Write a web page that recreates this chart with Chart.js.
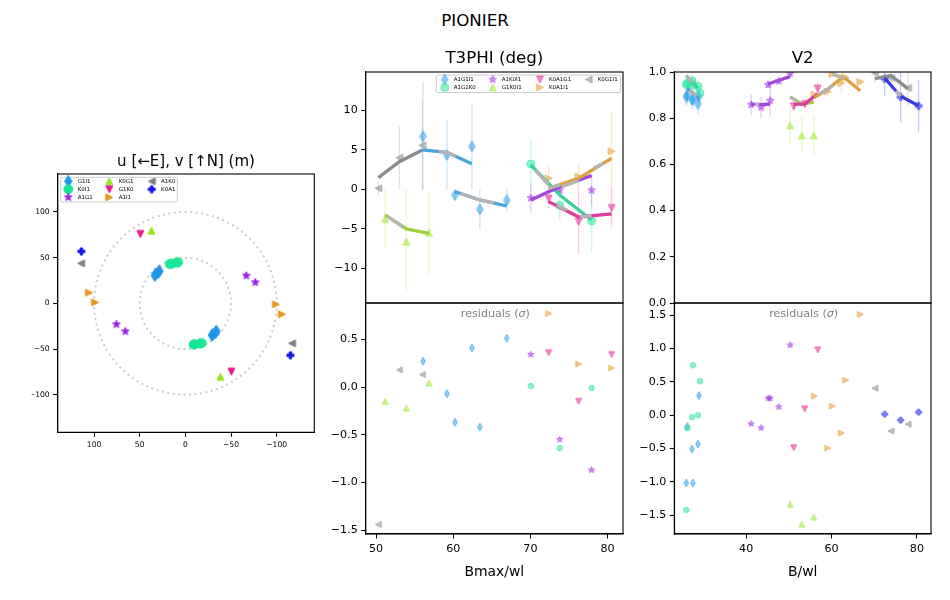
<!DOCTYPE html>
<html>
<head>
<meta charset="utf-8">
<title>PIONIER</title>
<script src="https://cdn.jsdelivr.net/npm/chart.js@4"></script>
<style>
  body { margin: 0; background: #fff; }
  canvas { position: absolute; left: 0; top: 0; }
  #main { position: absolute; left: 0; top: 11px; width: 950px; text-align: center;
          font: 16.67px "DejaVu Sans"; line-height: 20px; color: #000; }
</style>
</head>
<body>
<div id="main">PIONIER</div>
<canvas id="uv" width="950" height="600"></canvas>
<canvas id="t3" width="950" height="600"></canvas>
<canvas id="t3res" width="950" height="600"></canvas>
<canvas id="v2" width="950" height="600"></canvas>
<canvas id="v2res" width="950" height="600"></canvas>
<script>
// u,v coverage (m)
const uG1I1 = [33.5, 32.5, 29.5, 28.5, -29, -30, -33, -34];
const vG1I1 = [30.5, 32, 34, 35.5, -35, -34, -32, -30.5];
const uK0I1 = [17, 15, 9.5, 8, -9, -10, -16, -18];
const vK0I1 = [43, 43.5, 44.5, 45, -45, -45, -44, -43.5];
const uA1G1 = [75.5, 65.7, -66.8, -76.6];
const vA1G1 = [-23, -30.7, 30.3, 23];
const uK0G1 = [37.2, -38.3];
const vK0G1 = [79.6, -80.3];
const uG1K0 = [49.3, -50.4];
const vG1K0 = [75.9, -74.8];
const uA1I1 = [105.5, 98.9, -99.3, -105.8];
const vA1I1 = [11.7, 1.1, -1.1, -12];
const uA1K0 = [114.2, -116.8];
const vA1K0 = [43.8, -43.8];
const uK0A1 = [113.9, -115];
const vK0A1 = [56.9, -56.9];
const uvRings = [50, 100];

// T3PHI: x, value, error, residual
const xA1G1I1 = [56.08, 59.18, 62.42, 60.22, 63.45, 66.94];
const yA1G1I1 = [6.73, 4.37, 5.46, -0.7, -2.51, -1.37];
const eA1G1I1 = [6.8, 4.4, 5.5, 0.7, 2.5, 1.4];
const rA1G1I1 = [0.27, -0.07, 0.41, -0.37, -0.42, 0.51];
const xA1G1K0 = [70.05, 73.8, 77.93];
const yA1G1K0 = [3.23, -2, -3.99];
const eA1G1K0 = [3.2, 2, 4];
const rA1G1K0 = [0.01, -0.64, -0.01];
const yA1K0I1 = [-1.07, -0.1, -0.1];
const eA1K0I1 = [1.9, 0.7, 2];
const rA1K0I1 = [0.34, -0.55, -0.87];
const xG1K0I1 = [51.17, 53.93, 56.86];
const yG1K0I1 = [-3.73, -6.6, -5.46];
const eG1K0I1 = [3.8, 6.6, 5.4];
const rG1K0I1 = [-0.15, -0.22, 0.04];
const xK0A1G1 = [72.37, 76.25, 80.52];
const yK0A1G1 = [-1.16, -4.1, -2.34];
const eK0A1G1 = [1.27, 4.1, 2.4];
const rK0A1G1 = [0.36, -0.15, 0.34];
const yK0A1I1 = [1.4, 1.62, 4.83];
const eK0A1I1 = [1.6, 1.65, 4.9];
const rK0A1I1 = [0.77, 0.24, 0.2];
const xK0G1I1 = [50.3, 53.02, 56];
const yK0G1I1 = [0.15, 4.03, 5.59];
const eK0G1I1 = [0.85, 4, 5.6];
const rK0G1I1 = [-1.44, 0.18, 0.13];

// T3PHI model lines
const mxA1G1I1 = [56, 59.18, 62.42, null, 60.22, 63.45, 66.94];
const myA1G1I1 = [5, 4.7, 3.27, null, -0.27, -1.33, -2.09];
const myA1G1K0 = [3.1, -0.7, -3.86];
const myA1K0I1 = [-1.33, 0.36, 1.75];
const myG1K0I1 = [-3.23, -5, -5.55];
const myK0A1G1 = [-1.54, -3.48, -3.1];
const myK0A1I1 = [0.15, 1.41, 3.95];
const myK0G1I1 = [1.5, 3.52, 5];
// grey stretches laid over the coloured model lines
const t3GreyX = [58.15, 59.18, 60.3, null, 60.95, 63.45, 65.3, null, 51.5, 53.6, null, 70.6, 72.35, null, 73.4, 74.7, null, 76.4, 77.95, null, 72.35, 73.86, null, 78.17, 79.46, null, 74.07, 76.23];
const t3GreyY = [4.8, 4.7, 4.2, null, -0.51, -1.33, -1.73, null, -3.44, -4.79, null, 2.47, 0.57, null, -1.96, -2.59, null, -3.43, -3.35, null, 0.15, 0.57, null, 2.68, 3.32, null, 0.36, 1.12];

// V2: x, value, error, residual
const xG1I1 = [25.96, 26.2, 27.3, 27.52, 28.7, 28.93];
const yG1I1 = [0.892, 0.9, 0.88, 0.88, 0.861, 0.895];
const eG1I1 = [0.04, 0.04, 0.04, 0.04, 0.045, 0.04];
const rG1I1 = [-1.016, -0.169, -0.508, -1.016, -0.433, 0.294];
const xK0I1 = [25.96, 26.2, 27.3, 27.52, 28.7, 29.16];
const yK0I1 = [0.945, 0.952, 0.962, 0.945, 0.938, 0.909];
const eK0I1 = [0.03, 0.03, 0.04, 0.03, 0.03, 0.03];
const rK0I1 = [-1.42, -0.194, -0.03, 0.747, 0, 0.508];
const xA1G1 = [41.17, 43.5, 45.6, 45.15, 47.64, 50.29];
const yA1G1 = [0.859, 0.847, 0.876, 0.945, 0.96, 0.993];
const eA1G1 = [0.045, 0.047, 0.07, 0.012, 0.012, 0.012];
const rA1G1 = [-0.13, -0.19, 0.254, 0.254, 0.125, 1.05];
const xK0G1 = [50.29, 53.02, 55.83];
const yK0G1 = [0.769, 0.726, 0.726];
const eK0G1 = [0.087, 0.078, 0.087];
const rK0G1 = [-1.335, -1.634, -1.53];
const xG1K0 = [51.15, 53.72, 56.76];
const yG1K0 = [0.851, 0.861, 0.928];
const eG1K0 = [0.02, 0.02, 0.025];
const rG1K0 = [-0.488, 0.095, 0.977];
const xA1I1 = [55.98, 59.1, 62.3, 60.2, 63.31, 66.74];
const yA1I1 = [0.902, 0.916, 0.952, 0.991, 0.977, 0.957];
const eA1I1 = [0.015, 0.02, 0.045, 0.012, 0.012, 0.012];
const rA1I1 = [0.284, -0.493, -0.269, 0.135, 0.523, 1.51];
const xA1K0 = [70.18, 73.92, 77.9];
const yA1K0 = [0.996, 0.974, 0.931];
const eA1K0 = [0.04, 0.05, 0.08];
const rA1K0 = [0.404, -0.239, -0.135];
const xK0A1 = [72.44, 76.18, 80.39];
const yK0A1 = [0.971, 0.892, 0.853];
const eK0A1 = [0.075, 0.11, 0.115];
const rK0A1 = [0.015, -0.075, 0.045];

// V2 model lines
const mxG1I1 = [26.2, 27.52, 28.93];
const myG1I1 = [0.93, 0.91, 0.885];
const mxK0I1 = [25.96, 27.3, 28.7];
const myK0I1 = [0.985, 0.955, 0.93];
const mxA1G1 = [41.17, 43.5, 45.6, null, 45.15, 47.64, 50.29];
const myA1G1 = [0.861, 0.859, 0.861, null, 0.948, 0.964, 0.98];
const myK0G1 = [0.892, 0.861, 0.87];
const myG1K0 = [0.861, 0.861, 0.906];
const mxA1I1 = [55.98, 59.1, 62.3, null, 60.2, 63.31, 66.74];
const myA1I1 = [0.89, 0.925, 0.974, null, 0.991, 0.971, 0.919];
const myA1K0 = [0.971, 0.985, 0.928];
const myK0A1 = [0.974, 0.895, 0.854];
const v2GreyX = [25.96, 27.3, null, 26.74, 27.52, 28.3, null, 50.29, 52, null, 42, 43, null, 57.15, 59.1, 60.3, null, 60.2, 63, null, 75.09, 76.18];
const v2GreyY = [0.985, 0.955, null, 0.922, 0.91, 0.896, null, 0.892, 0.873, null, 0.86, 0.86, null, 0.905, 0.925, 0.943, null, 0.991, 0.973, null, 0.918, 0.895];

// ticks
const uvTicks = [100, 50, 0, -50, -100];
const t3Ticks = [10, 5, 0, -5, -10];
const t3ResTicks = [0.5, 0, -0.5, -1, -1.5];
const t3XTicks = [50, 60, 70, 80];
const v2Ticks = [0, 0.2, 0.4, 0.6, 0.8, 1];
const v2ResTicks = [1.5, 1, 0.5, 0, -0.5, -1, -1.5];
const v2XTicks = [40, 60, 80];

const BLUE = '#1f97e6', TEAL = '#19e696', PURPLE = '#9b1fe6', LIME = '#97e61f',
      PINK = '#e6198c', ORANGE = '#e6961f', GREY = '#808080', NAVY = '#1414e6';
// model lines look a bit duller than the markers
const lineTone = {};
lineTone[BLUE] = '#4aa5dc'; lineTone[TEAL] = '#3ecf9e'; lineTone[PURPLE] = '#a046d8'; lineTone[LIME] = '#a0d040';
lineTone[PINK] = '#dc3c9c'; lineTone[ORANGE] = '#dca040'; lineTone[GREY] = '#8c8c8c'; lineTone[NAVY] = '#3c3cdc';
const FONT = 'DejaVu Sans';

Chart.defaults.font.family = FONT;
Chart.defaults.animation = false;
Chart.defaults.color = '#000';

// matplotlib style markers, drawn once on a small canvas
function marker(shape, color, size, alpha) {
  const c = document.createElement('canvas');
  c.width = c.height = Math.ceil(size) + 6;
  const g = c.getContext('2d');
  const r = size / 2;
  g.translate(c.width / 2, c.height / 2);
  g.beginPath();
  if (shape == 'o') {
    g.arc(0, 0, r, 0, Math.PI * 2);
  } else if (shape == 'd') {
    g.moveTo(0, -r); g.lineTo(r * 0.6, 0); g.lineTo(0, r); g.lineTo(-r * 0.6, 0);
  } else if (shape == '*') {
    for (let i = 0; i < 10; i++) {
      const a = -Math.PI / 2 + i * Math.PI / 5;
      const q = i % 2 ? r * 0.42 : r;
      g.lineTo(q * Math.cos(a), q * Math.sin(a));
    }
  } else if (shape == 'P') {
    const a = r * 0.36;
    const pts = [[-a, -r], [a, -r], [a, -a], [r, -a], [r, a], [a, a], [a, r], [-a, r], [-a, a], [-r, a], [-r, -a], [-a, -a]];
    pts.forEach(p => g.lineTo(p[0], p[1]));
  } else {
    const rot = { '^': 0, '>': 90, 'v': 180, '<': 270 }[shape] * Math.PI / 180;
    g.rotate(rot);
    g.moveTo(0, -r); g.lineTo(r, r); g.lineTo(-r, r);
  }
  g.closePath();
  g.globalAlpha = alpha;
  g.fillStyle = color;
  g.fill();
  g.strokeStyle = color;
  g.lineWidth = 1;
  g.stroke();
  return c;
}

function markerSet(shapes, colors, sizes, alpha) {
  return shapes.map((s, i) => marker(s, colors[i], sizes[s], alpha));
}

function pairs(xs, ys) {
  return xs.map((x, i) => ({ x: x, y: ys[i] }));
}

// error bars: two points per bar, with a gap between bars
function bars(xs, ys, es) {
  const out = [];
  xs.forEach((x, i) => {
    out.push({ x: x, y: ys[i] - es[i] }, { x: x, y: ys[i] + es[i] }, { x: null, y: null });
  });
  return out;
}

function points(xs, ys, style) {
  return { data: pairs(xs, ys), showLine: false, pointStyle: style, pointRadius: 5, pointHoverRadius: 5 };
}

function errs(xs, ys, es, color) {
  return { data: bars(xs, ys, es), borderColor: color + '38', borderWidth: 1.4, pointRadius: 0, spanGaps: false };
}

function line(xs, ys, color) {
  return { data: pairs(xs, ys), borderColor: color, borderWidth: 3.3, pointRadius: 0, spanGaps: false, tension: 0 };
}

const frame = {
  id: 'frame',
  afterDraw(chart) {
    const a = chart.chartArea, g = chart.ctx;
    g.save();
    g.strokeStyle = '#000';
    g.lineWidth = 1.1;
    g.strokeRect(a.left, a.top, a.right - a.left, a.bottom - a.top);
    g.restore();
  }
};

function legendBox(names, styles, rows, box, cols) {
  return {
    id: 'legendBox',
    afterDraw(chart) {
      const g = chart.ctx;
      g.save();
      g.beginPath();
      g.roundRect(box.x, box.y, box.w, box.h, 1.5);
      g.fillStyle = 'rgba(255,255,255,0.8)';
      g.fill();
      g.strokeStyle = '#ccc';
      g.lineWidth = 1;
      g.stroke();
      g.font = '5.5px "' + FONT + '"';
      g.fillStyle = '#000';
      g.textBaseline = 'middle';
      names.forEach((n, i) => {
        const col = Math.floor(i / rows), row = i % rows;
        const y = box.y + box.first + row * box.step;
        const m = styles[i];
        g.drawImage(m, cols[col] - m.width / 2, y - m.height / 2);
        g.fillText(n, cols[col] + box.gap, y);
      });
      g.restore();
    }
  };
}

function residualNote() {
  return {
    id: 'residualNote',
    afterDraw(chart) {
      const g = chart.ctx, a = chart.chartArea;
      const mid = (a.left + a.right) / 2;
      const plain = '11.1px "' + FONT + '"', slant = 'italic ' + plain;
      g.save();
      g.fillStyle = '#808080';
      g.textBaseline = 'middle';
      g.font = plain;
      const w1 = g.measureText('residuals (').width;
      const w3 = g.measureText(')').width;
      g.font = slant;
      const w2 = g.measureText('σ').width;
      const x = mid - (w1 + w2 + w3) / 2 + 1;
      g.font = plain;
      g.fillText('residuals (', x, a.top + 11.5);
      g.fillText(')', x + w1 + w2, a.top + 11.5);
      g.font = slant;
      g.fillText('σ', x + w1, a.top + 11.5);
      g.restore();
    }
  };
}

const rings = {
  id: 'rings',
  beforeDatasetsDraw(chart) {
    const sx = chart.scales.x, sy = chart.scales.y, g = chart.ctx;
    g.save();
    g.strokeStyle = 'rgba(0,0,0,0.2)';
    g.lineWidth = 2;
    g.setLineDash([2, 3.5]);
    uvRings.forEach(r => {
      const px = Math.abs(sx.getPixelForValue(r) - sx.getPixelForValue(0));
      g.beginPath();
      g.arc(sx.getPixelForValue(0), sy.getPixelForValue(0), px, 0, Math.PI * 2);
      g.stroke();
    });
    g.restore();
  }
};

function num(digits) {
  return v => (digits ? v.toFixed(digits) : String(v)).replace('-', '\u2212');
}

// one axis with fixed ticks and a fixed thickness, so the plot box lands where it should
function axis(min, max, ticks, fmt, size, thick, extra) {
  return Object.assign({
    type: 'linear', min: min, max: max, bounds: 'data', thick: thick,
    grid: { drawOnChartArea: false, drawTicks: true, tickLength: 4.5, tickColor: '#000', tickWidth: 1.1 },
    border: { color: '#000', width: 1.1 },
    ticks: { callback: fmt, font: { size: size }, padding: 3.5, maxRotation: 0, autoSkip: false, color: '#000' },
    afterBuildTicks(s) { s.ticks = ticks.map(v => ({ value: v })); },
    afterFit(s) { if (s.isHorizontal()) s.height = thick; else s.width = thick; }
  }, extra || {});
}

function panel(id, area, xAxis, yAxis, datasets, plugins, title) {
  const h = xAxis.display === false ? 0 : xAxis.thick;
  const titleH = title ? title.size * 1.2 + title.gap : 0;
  return new Chart(document.getElementById(id), {
    type: 'line',
    data: { datasets: datasets.slice().reverse() },
    options: {
      responsive: false,
      layout: { padding: {
        left: area.left - yAxis.thick,
        right: 950 - area.right,
        top: area.top - titleH,
        bottom: 600 - area.bottom - h
      } },
      scales: { x: xAxis, y: yAxis },
      plugins: {
        legend: { display: false },
        tooltip: { enabled: false },
        title: title ? { display: true, text: title.text, fullSize: false, font: { size: title.size, weight: 'normal' }, padding: { top: 0, bottom: title.gap }, color: '#000' } : { display: false }
      }
    },
    plugins: [frame].concat(plugins || [])
  });
}

function xAxisFor(min, max, ticks, label) {
  const a = axis(min, max, ticks, num(0), 11.1, 48);
  a.title = { display: true, text: label, font: { size: 13.9 }, padding: { top: 0, bottom: 1 }, color: '#000' };
  return a;
}

function hiddenX(min, max) {
  return { type: 'linear', min: min, max: max, display: false, bounds: 'data' };
}

function yAxisFor(min, max, ticks, digits) {
  return axis(min, max, ticks, num(digits), 11.1, 40);
}

const bigSizes = { d: 11, o: 8, '*': 8, '^': 7, v: 7, '>': 7, '<': 7, P: 7 };
const smallSizes = { d: 8, o: 5.5, '*': 6.5, '^': 6, v: 6, '>': 6, '<': 6, P: 6 };
const uvSizes = { d: 12, o: 9, '*': 8, '^': 7, v: 7, '>': 7, '<': 7, P: 7 };

// ---- u,v panel
const uvXAxis = axis(-141.2, 139.8, uvTicks, num(0), 7.6, 20, { reverse: true });
const uvYAxis = axis(-141.2, 141.6, uvTicks, num(0), 7.6, 26);
const uvColors = [BLUE, TEAL, PURPLE, LIME, PINK, ORANGE, GREY, NAVY];
const uvShapes = ['d', 'o', '*', '^', 'v', '>', '<', 'P'];
const uvMarkers = markerSet(uvShapes, uvColors, uvSizes, 1);
const uvNames = ['G1I1', 'K0I1', 'A1G1', 'K0G1', 'G1K0', 'A1I1', 'A1K0', 'K0A1'];
const uvX = [uG1I1, uK0I1, uA1G1, uK0G1, uG1K0, uA1I1, uA1K0, uK0A1];
const uvY = [vG1I1, vK0I1, vA1G1, vK0G1, vG1K0, vA1I1, vA1K0, vK0A1];
panel('uv', { left: 57.7, right: 314.3, top: 174, bottom: 432.3 }, uvXAxis, uvYAxis,
  uvX.map((xs, i) => points(xs, uvY[i], uvMarkers[i])),
  [rings, legendBox(uvNames, uvMarkers, 3, { x: 60.7, y: 177.3, w: 116.6, h: 24.7, first: 4, step: 8, gap: 9.4 }, [68.3, 109.3, 151.7])],
  { text: 'u [\u2190E], v [\u2191N] (m)', size: 15, gap: 3 });

// ---- T3PHI panels
const t3Colors = [BLUE, TEAL, PURPLE, LIME, PINK, ORANGE, GREY];
const t3Shapes = ['d', 'o', '*', '^', 'v', '>', '<'];
const t3Names = ['A1G1I1', 'A1G1K0', 'A1K0I1', 'G1K0I1', 'K0A1G1', 'K0A1I1', 'K0G1I1'];
const t3X = [xA1G1I1, xA1G1K0, xA1G1K0, xG1K0I1, xK0A1G1, xK0A1G1, xK0G1I1];
const t3Y = [yA1G1I1, yA1G1K0, yA1K0I1, yG1K0I1, yK0A1G1, yK0A1I1, yK0G1I1];
const t3E = [eA1G1I1, eA1G1K0, eA1K0I1, eG1K0I1, eK0A1G1, eK0A1I1, eK0G1I1];
const t3R = [rA1G1I1, rA1G1K0, rA1K0I1, rG1K0I1, rK0A1G1, rK0A1I1, rK0G1I1];
const t3MX = [mxA1G1I1, xA1G1K0, xA1G1K0, xG1K0I1, xK0A1G1, xK0A1G1, xK0G1I1];
const t3MY = [myA1G1I1, myA1G1K0, myA1K0I1, myG1K0I1, myK0A1G1, myK0A1I1, myK0G1I1];
const t3Big = markerSet(t3Shapes, t3Colors, bigSizes, 0.5);
const t3Small = markerSet(t3Shapes, t3Colors, smallSizes, 0.5);
const t3Ds = []
  .concat(t3X.map((xs, i) => errs(xs, t3Y[i], t3E[i], t3Colors[i])))
  .concat(t3X.map((xs, i) => points(xs, t3Y[i], t3Big[i])))
  .concat(t3MX.map((xs, i) => line(xs, t3MY[i], lineTone[t3Colors[i]])))
  .concat([line(t3GreyX, t3GreyY, '#b4b4b4')]);
panel('t3', { left: 365.7, right: 623, top: 72, bottom: 303 }, hiddenX(48.66, 82), yAxisFor(-14.37, 14.87, t3Ticks, 0), t3Ds,
  [legendBox(t3Names, t3Big, 2, { x: 436.3, y: 75, w: 184.2, h: 17.5, first: 4.5, step: 8, gap: 9 }, [444.7, 492.7, 540, 588.7])],
  { text: 'T3PHI (deg)', size: 16.67, gap: 3 });
panel('t3res', { left: 365.7, right: 623, top: 303, bottom: 534 }, xAxisFor(48.66, 82, t3XTicks, 'Bmax/wl'), yAxisFor(-1.54, 0.88, t3ResTicks, 1),
  t3X.map((xs, i) => points(xs, t3R[i], t3Small[i])), [residualNote()]);

// ---- V2 panels
const v2Colors = uvColors;
const v2Shapes = uvShapes;
const v2X = [xG1I1, xK0I1, xA1G1, xK0G1, xG1K0, xA1I1, xA1K0, xK0A1];
const v2Y = [yG1I1, yK0I1, yA1G1, yK0G1, yG1K0, yA1I1, yA1K0, yK0A1];
const v2E = [eG1I1, eK0I1, eA1G1, eK0G1, eG1K0, eA1I1, eA1K0, eK0A1];
const v2R = [rG1I1, rK0I1, rA1G1, rK0G1, rG1K0, rA1I1, rA1K0, rK0A1];
const v2MX = [mxG1I1, mxK0I1, mxA1G1, xK0G1, xG1K0, mxA1I1, xA1K0, xK0A1];
const v2MY = [myG1I1, myK0I1, myA1G1, myK0G1, myG1K0, myA1I1, myA1K0, myK0A1];
const v2Big = markerSet(v2Shapes, v2Colors, bigSizes, 0.5);
const v2Small = markerSet(v2Shapes, v2Colors, smallSizes, 0.5);
const v2Ds = []
  .concat(v2X.map((xs, i) => errs(xs, v2Y[i], v2E[i], v2Colors[i])))
  .concat(v2X.map((xs, i) => points(xs, v2Y[i], v2Big[i])))
  .concat(v2MX.map((xs, i) => line(xs, v2MY[i], lineTone[v2Colors[i]])))
  .concat([line(v2GreyX, v2GreyY, '#b4b4b4')]);
panel('v2', { left: 674.3, right: 931, top: 72, bottom: 303 }, hiddenX(23.16, 83.3), yAxisFor(0, 1, v2Ticks, 1), v2Ds, [],
  { text: 'V2', size: 16.67, gap: 3 });
panel('v2res', { left: 674.3, right: 931, top: 303, bottom: 534 }, xAxisFor(23.16, 83.3, v2XTicks, 'B/wl'), yAxisFor(-1.78, 1.68, v2ResTicks, 1),
  v2X.map((xs, i) => points(xs, v2R[i], v2Small[i])), [residualNote()]);
</script>
</body>
</html>
